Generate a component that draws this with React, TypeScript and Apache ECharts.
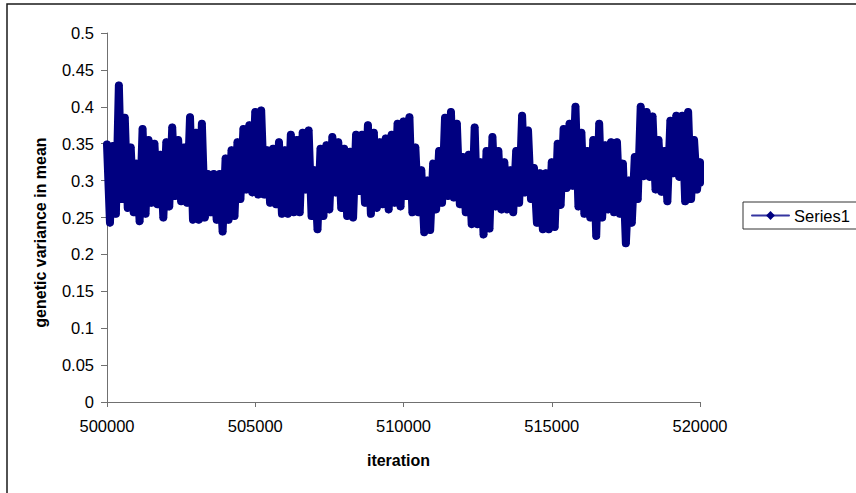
import { useEffect, useRef } from 'react';
import * as echarts from 'echarts';

// x-axis ticks (iteration)
const xTicks = [500000, 505000, 510000, 515000, 520000];
// sampling grid of the envelope readings
const iterStart = 500000;
const iterStep = 200;

// upper extremes of the trace, one per 200 iterations (500000 .. 520000)
const upper = [
  0.349, 0.347, 0.429, 0.385, 0.345, 0.323, 0.370, 0.355, 0.350, 0.335,
  0.352, 0.372, 0.355, 0.345, 0.386, 0.365, 0.377, 0.309, 0.309, 0.309,
  0.330, 0.341, 0.352, 0.370, 0.375, 0.393, 0.395, 0.341, 0.343, 0.352,
  0.341, 0.362, 0.355, 0.365, 0.368, 0.314, 0.343, 0.348, 0.359, 0.352,
  0.343, 0.339, 0.362, 0.362, 0.375, 0.365, 0.352, 0.357, 0.362, 0.377,
  0.380, 0.386, 0.345, 0.314, 0.300, 0.323, 0.340, 0.385, 0.393, 0.377,
  0.332, 0.335, 0.372, 0.325, 0.340, 0.359, 0.340, 0.325, 0.314, 0.340,
  0.388, 0.368, 0.317, 0.310, 0.310, 0.325, 0.350, 0.370, 0.377, 0.400,
  0.365, 0.340, 0.355, 0.377, 0.348, 0.352, 0.352, 0.323, 0.300, 0.332,
  0.400, 0.393, 0.387, 0.355, 0.340, 0.381, 0.388, 0.388, 0.393, 0.355,
  0.325,
];

// lower extremes of the trace, one per 200 iterations (offset by 100)
const lower = [
  0.243, 0.255, 0.275, 0.263, 0.257, 0.245, 0.255, 0.270, 0.268, 0.250,
  0.265, 0.279, 0.272, 0.270, 0.247, 0.247, 0.250, 0.257, 0.247, 0.231,
  0.247, 0.252, 0.275, 0.288, 0.284, 0.281, 0.281, 0.270, 0.268, 0.255,
  0.255, 0.257, 0.257, 0.288, 0.252, 0.234, 0.252, 0.261, 0.284, 0.263,
  0.252, 0.250, 0.286, 0.270, 0.255, 0.263, 0.268, 0.261, 0.270, 0.265,
  0.279, 0.257, 0.257, 0.230, 0.233, 0.261, 0.270, 0.279, 0.277, 0.268,
  0.257, 0.241, 0.241, 0.227, 0.235, 0.265, 0.261, 0.261, 0.257, 0.270,
  0.284, 0.275, 0.243, 0.234, 0.234, 0.237, 0.267, 0.290, 0.293, 0.265,
  0.255, 0.250, 0.225, 0.250, 0.261, 0.257, 0.255, 0.215, 0.243, 0.275,
  0.306, 0.305, 0.288, 0.285, 0.272, 0.310, 0.305, 0.272, 0.275, 0.288,
  0.297,
];

function buildSeries(): [number, number][] {
  const pts: [number, number][] = [];
  const end = xTicks[xTicks.length - 1];
  for (let k = 0; k < upper.length; k++) {
    const it = iterStart + k * iterStep;
    pts.push([it, upper[k]]);
    pts.push([Math.min(it + iterStep / 2, end), lower[k]]);
  }
  return pts;
}

const FONT = 'Arial, "Liberation Sans", sans-serif';

export default function App() {
  const ref = useRef<HTMLDivElement>(null);
  useEffect(() => {
    if (!ref.current) return;
    const chart = echarts.init(ref.current, undefined, { renderer: 'svg' });
    const navy = '#000080';
    chart.setOption({
      animation: false,
      backgroundColor: '#ffffff',
      textStyle: { fontFamily: FONT },
      grid: { left: 107, top: 33, width: 593, height: 369, containLabel: false },
      xAxis: {
        type: 'value',
        min: xTicks[0],
        max: xTicks[xTicks.length - 1],
        interval: 5000,
        name: 'iteration',
        nameLocation: 'middle',
        nameGap: 50,
        nameTextStyle: { fontSize: 16, fontWeight: 'bold', color: '#000', fontFamily: FONT, padding: [0, 10, 0, 0] },
        axisLine: { show: true, onZero: false, lineStyle: { color: '#707070', width: 1 } },
        axisTick: { show: true, length: 5, lineStyle: { color: '#707070' } },
        axisLabel: {
          fontSize: 16.5,
          color: '#000',
          margin: 15,
          fontFamily: FONT,
          formatter: (v: number) => String(v),
        },
        splitLine: { show: false },
      },
      yAxis: {
        type: 'value',
        min: 0,
        max: 0.5,
        interval: 0.05,
        name: 'genetic variance in mean',
        nameLocation: 'middle',
        nameGap: 59,
        nameTextStyle: { fontSize: 16, fontWeight: 'bold', color: '#000', fontFamily: FONT, padding: [0, 30, 0, 0] },
        axisLine: { show: true, lineStyle: { color: '#707070', width: 1 } },
        axisTick: { show: true, length: 6, lineStyle: { color: '#707070' } },
        axisLabel: { fontSize: 16.5, color: '#000', margin: 13, fontFamily: FONT },
        splitLine: { show: false },
      },
      legend: {
        show: true,
        left: 743,
        top: 202,
        orient: 'vertical',
        padding: [5, 20, 5, 8],
        itemWidth: 37,
        itemHeight: 11,
        itemGap: 0,
        borderColor: '#333',
        borderWidth: 1,
        backgroundColor: '#fff',
        textStyle: { fontSize: 16.5, color: '#000', fontFamily: FONT },
        lineStyle: { width: 2, color: '#3535a0' },
        itemStyle: { color: navy },
        data: ['Series1'],
      },
      series: [
        {
          type: 'line',
          name: 'Series1',
          data: buildSeries(),
          symbol: 'diamond',
          symbolSize: 8,
          showSymbol: true,
          showAllSymbol: true,
          clip: false,
          lineStyle: { color: navy, width: 8, join: 'round', cap: 'round' },
          itemStyle: { color: navy, borderWidth: 0 },
          emphasis: { disabled: true },
        },
      ],
      graphic: [
        {
          type: 'rect',
          silent: true,
          z: -10,
          shape: { x: 7, y: 4, width: 1000, height: 1000 },
          style: { fill: 'none', stroke: '#1a1a1a', lineWidth: 1.5 },
        },
      ],
    });
    return () => chart.dispose();
  }, []);
  return (
    <div
      ref={ref}
      style={{ position: 'fixed', left: 0, top: 0, width: 880, height: 510 }}
    />
  );
}
